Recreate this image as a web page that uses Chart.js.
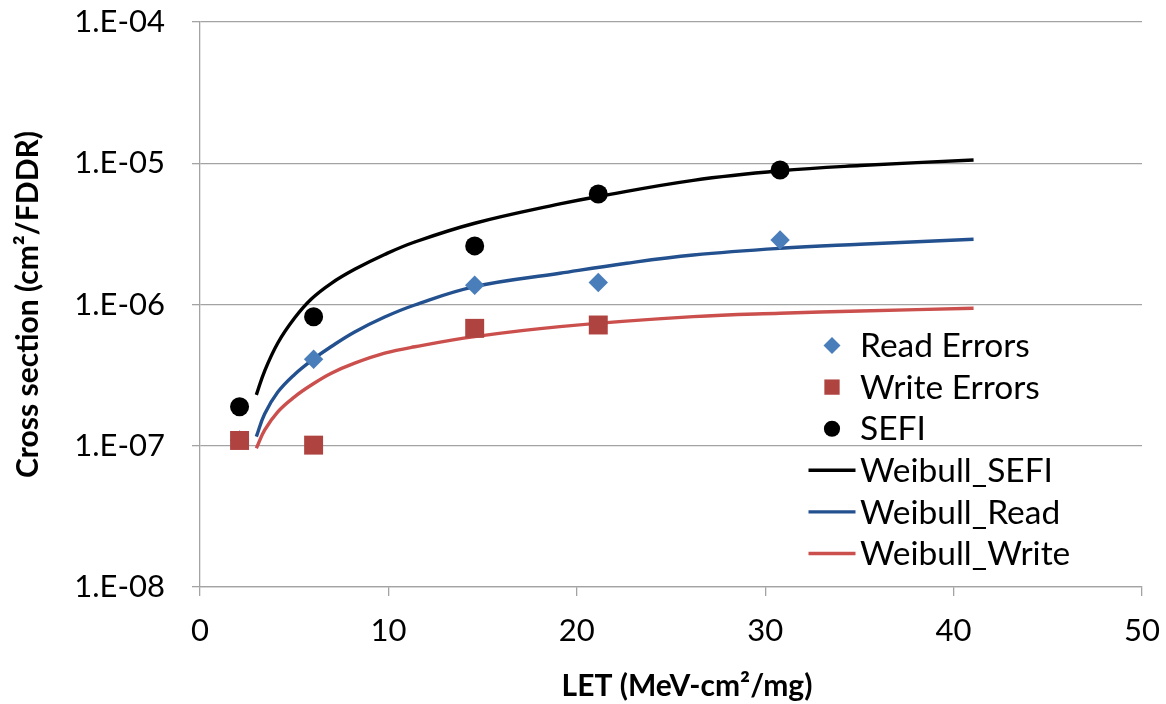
<!DOCTYPE html>
<html>
<head>
<meta charset="utf-8">
<script src="https://cdn.jsdelivr.net/npm/chart.js@4.4.1/dist/chart.umd.min.js"></script>
<style>
  html, body { margin: 0; padding: 0; background: #fff; }
  #wrap { width: 1166px; height: 704px; position: relative; }
</style>
</head>
<body>
<div id="wrap"><canvas id="c"></canvas></div>
<script>
// ---- Data ----
const xTicks = [0, 10, 20, 30, 40, 50];
const yTickValues = [1e-8, 1e-7, 1e-6, 1e-5, 1e-4];
const yTickLabels = ['1.E-08', '1.E-07', '1.E-06', '1.E-05', '1.E-04'];

const readLet = [2.1, 6.03, 14.58, 21.14, 30.79];
const readErrors = [1.10e-7, 4.10e-7, 1.37e-6, 1.43e-6, 2.86e-6];

const writeLet = [2.1, 6.03, 14.58, 21.14];
const writeErrors = [1.09e-7, 1.01e-7, 6.78e-7, 7.16e-7];

const sefiLet = [2.1, 6.03, 14.58, 21.14, 30.79];
const sefi = [1.89e-7, 8.2e-7, 2.6e-6, 6.05e-6, 8.96e-6];

const wSefiLet = [2.99, 3.43, 4.13, 5.02, 5.91, 6.97, 8.21, 9.80, 11.40, 14.58, 19.10, 21.14, 26.18, 30.79, 35.04, 41.06];
const wSefi = [2.29e-7, 3.38e-7, 5.34e-7, 8.02e-7, 1.094e-6, 1.413e-6, 1.774e-6, 2.26e-6, 2.77e-6, 3.76e-6, 5.15e-6, 5.82e-6, 7.57e-6, 8.85e-6, 9.64e-6, 1.054e-5];

const wReadLet = [2.99, 3.43, 4.13, 5.02, 5.99, 6.97, 8.21, 9.80, 11.40, 14.58, 19.10, 22.65, 26.18, 30.79, 35.04, 41.06];
const wRead = [1.16e-7, 1.68e-7, 2.40e-7, 3.20e-7, 4.08e-7, 5.04e-7, 6.39e-7, 8.15e-7, 9.92e-7, 1.337e-6, 1.663e-6, 1.96e-6, 2.24e-6, 2.50e-6, 2.67e-6, 2.90e-6];

const wWriteLet = [2.99, 3.43, 4.13, 5.02, 5.91, 6.97, 8.21, 9.80, 11.40, 14.58, 19.10, 26.18, 30.79, 35.04, 41.06];
const wWrite = [9.59e-8, 1.29e-7, 1.74e-7, 2.22e-7, 2.69e-7, 3.26e-7, 3.84e-7, 4.52e-7, 5.02e-7, 5.92e-7, 6.97e-7, 8.20e-7, 8.67e-7, 8.99e-7, 9.40e-7];

const seriesNames = ['Read Errors', 'Write Errors', 'SEFI', 'Weibull_SEFI', 'Weibull_Read', 'Weibull_Write'];
const xTitle = 'LET (MeV-cm²/mg)';
const yTitle = 'Cross section (cm²/FDDR)';

// ---- helpers ----
const pts = (xs, ys) => xs.map((x, i) => ({ x: x, y: ys[i] }));
const FONT = 'Lato, "Open Sans", sans-serif';
const GRID = '#a3a3a3';

const datasets = [
  { label: seriesNames[0], data: pts(readLet, readErrors), showLine: false, pointStyle: 'rectRot',
    pointRadius: 9.7, pointHoverRadius: 9.7, backgroundColor: '#4A7EBB', borderColor: '#4A7EBB', borderWidth: 0, order: 3 },
  { label: seriesNames[1], data: pts(writeLet, writeErrors), showLine: false, pointStyle: 'rect',
    pointRadius: 13.4, pointHoverRadius: 13.4, backgroundColor: '#AF4340', borderColor: '#AF4340', borderWidth: 0, order: 2 },
  { label: seriesNames[2], data: pts(sefiLet, sefi), showLine: false, pointStyle: 'circle',
    pointRadius: 9.5, pointHoverRadius: 9.5, backgroundColor: '#000000', borderColor: '#000000', borderWidth: 0, order: 1 },
  { label: seriesNames[3], data: pts(wSefiLet, wSefi), showLine: true, pointRadius: 0, borderColor: '#000000',
    borderWidth: 3.4, tension: 0.4, order: 6 },
  { label: seriesNames[4], data: pts(wReadLet, wRead), showLine: true, pointRadius: 0, borderColor: '#23508E',
    borderWidth: 3.4, tension: 0.4, order: 5 },
  { label: seriesNames[5], data: pts(wWriteLet, wWrite), showLine: true, pointRadius: 0, borderColor: '#CB4F4C',
    borderWidth: 3.4, tension: 0.4, order: 4 }
];

// Custom in-plot legend (drawn from the datasets' own styles)
const insideLegend = {
  id: 'insideLegend',
  beforeDraw(chart, args, opts) {
    // Excel places the x-axis title slightly right of the plot centre
    const xs = chart.scales.x;
    if (xs && !xs._titleShifted) {
      const orig = xs.drawTitle;
      xs.drawTitle = function () {
        const c = this.ctx; c.save(); c.translate(opts.xTitleShift, 0); orig.apply(this, arguments); c.restore();
      };
      xs._titleShifted = true;
    }
  },
  afterDraw(chart, args, opts) {
    const ctx = chart.ctx;
    ctx.save();
    ctx.font = opts.fontSize + 'px ' + FONT;
    ctx.fillStyle = '#000';
    ctx.textBaseline = 'middle';
    chart.data.datasets.forEach((ds, i) => {
      const y = opts.top + i * opts.rowHeight;
      const mx = opts.markerX;
      if (ds.showLine) {
        ctx.strokeStyle = ds.borderColor;
        ctx.lineWidth = ds.borderWidth;
        ctx.beginPath();
        ctx.moveTo(mx - opts.lineHalf, y);
        ctx.lineTo(mx + opts.lineHalf, y);
        ctx.stroke();
      } else {
        ctx.fillStyle = ds.backgroundColor;
        ctx.beginPath();
        const r = opts.markerR;
        if (ds.pointStyle === 'rectRot') {
          ctx.moveTo(mx - r, y); ctx.lineTo(mx, y - r); ctx.lineTo(mx + r, y); ctx.lineTo(mx, y + r); ctx.closePath();
        } else if (ds.pointStyle === 'rect') {
          ctx.rect(mx - r * 0.9, y - r * 0.9, r * 1.8, r * 1.8);
        } else {
          ctx.arc(mx, y, r * 0.95, 0, Math.PI * 2);
        }
        ctx.fill();
        ctx.fillStyle = '#000';
      }
      ctx.fillText(ds.label, opts.textX, y + 1);
    });
    ctx.restore();
  }
};

new Chart(document.getElementById('c'), {
  type: 'scatter',
  data: { datasets: datasets },
  plugins: [insideLegend],
  options: {
    responsive: true,
    maintainAspectRatio: false,
    animation: false,
    layout: { padding: { top: 22, right: 24, left: 0, bottom: 0 } },
    plugins: {
      legend: { display: false },
      tooltip: { enabled: false },
      insideLegend: { top: 345.5, rowHeight: 41.6, markerX: 832, markerR: 8.5, lineHalf: 23.5, textX: 860, fontSize: 33.5, xTitleShift: 16 }
    },
    scales: {
      x: {
        type: 'linear',
        min: 0, max: 50,
        afterBuildTicks: s => { s.ticks = xTicks.map(v => ({ value: v })); },
        afterFit: s => { s.height = 117; s.paddingLeft = 0; s.paddingRight = 0; },
        grid: { drawOnChartArea: false, drawTicks: true, tickLength: 9, color: GRID, lineWidth: 1.3 },
        border: { color: GRID, width: 1.3 },
        ticks: { color: '#000', padding: 16, font: { family: FONT, size: 31 }, maxRotation: 0 },
        title: { display: true, text: xTitle, color: '#000', font: { family: FONT, size: 30, weight: 'bold', lineHeight: 1 }, padding: { top: 0, bottom: 3 } }
      },
      y: {
        type: 'logarithmic',
        min: 1e-8, max: 1e-4,
        afterBuildTicks: s => { s.ticks = yTickValues.map(v => ({ value: v })); },
        afterFit: s => { s.width = 200; s.paddingTop = 0; s.paddingBottom = 0; },
        grid: { drawTicks: true, tickLength: 8, color: GRID, lineWidth: 1.3 },
        border: { color: GRID, width: 1.3 },
        ticks: {
          color: '#000', padding: 27, font: { family: FONT, size: 31 },
          callback: (v) => { const i = yTickValues.findIndex(t => Math.abs(Math.log10(t) - Math.log10(v)) < 1e-6); return i >= 0 ? yTickLabels[i] : ''; }
        },
        title: { display: true, text: yTitle, color: '#000', font: { family: FONT, size: 30, weight: 'bold', lineHeight: 1 }, padding: { top: 13, bottom: 0 } }
      }
    }
  }
});
</script>
</body>
</html>
